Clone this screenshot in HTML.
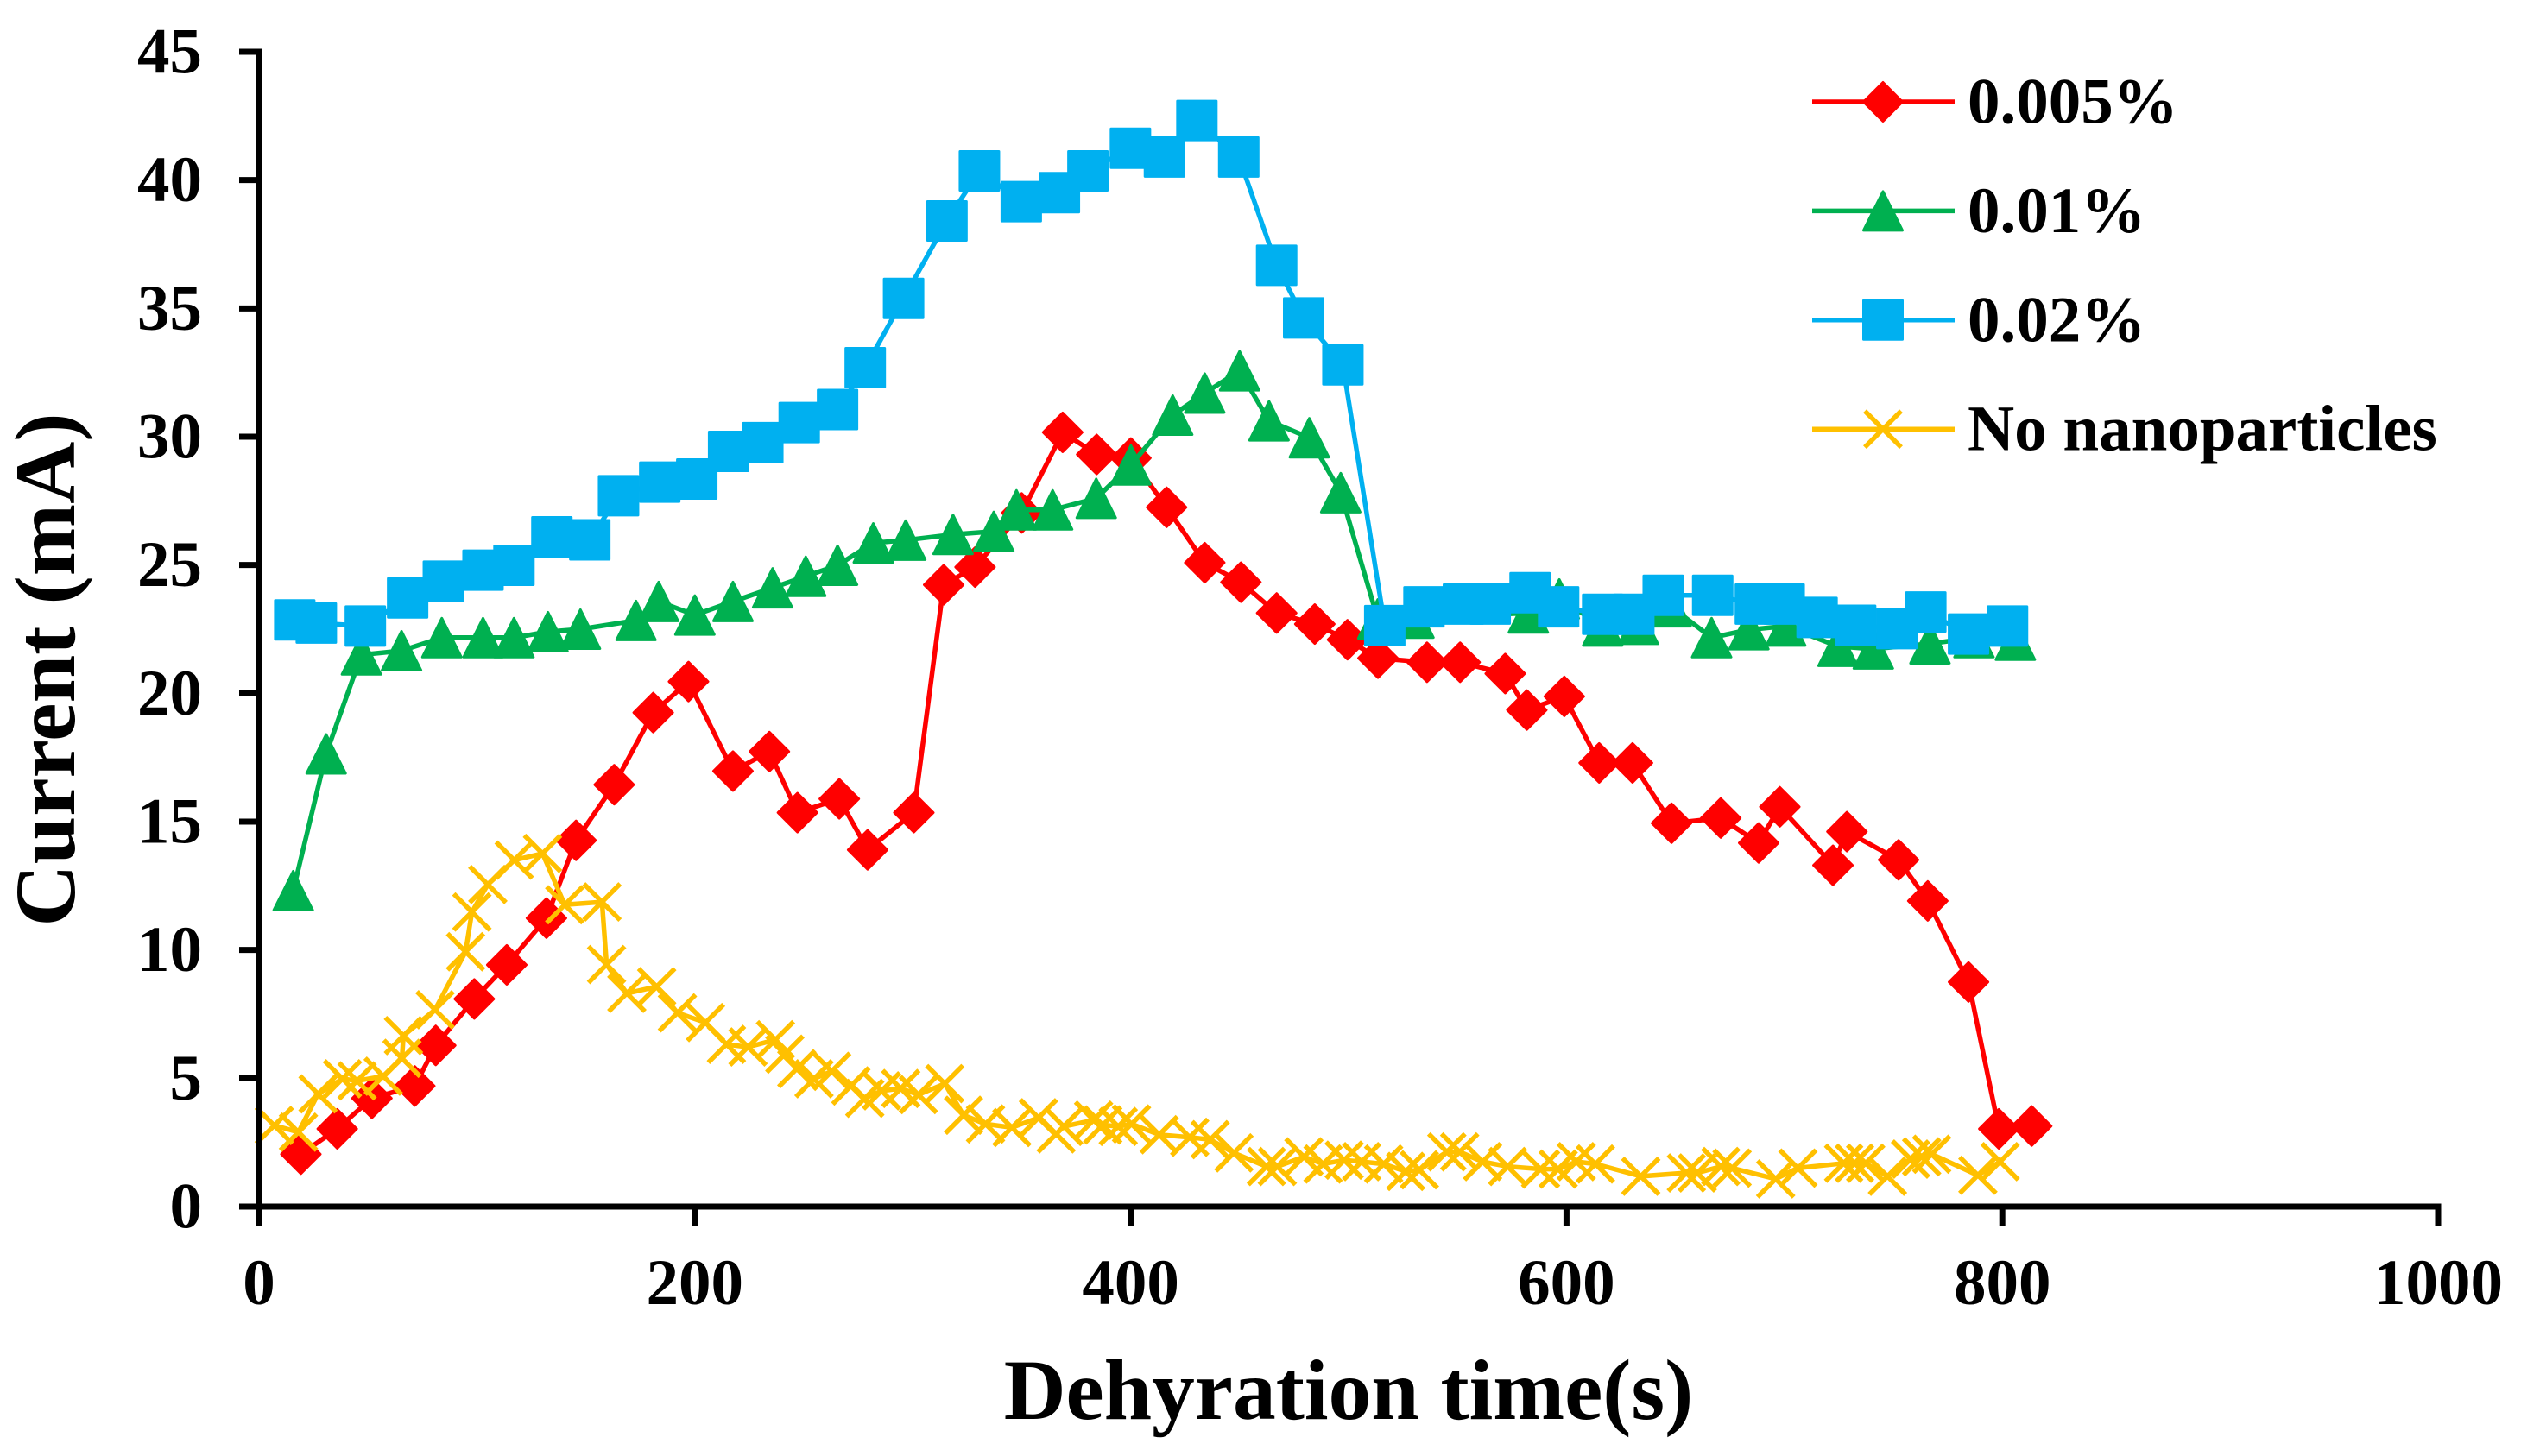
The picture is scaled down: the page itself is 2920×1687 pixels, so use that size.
<!DOCTYPE html>
<html lang="en">
<head>
<meta charset="utf-8">
<title>Current vs dehydration time</title>
<style>
html,body{margin:0;padding:0;background:#fff;}
svg{display:block;}
text{font-family:"Liberation Serif",serif;font-weight:bold;fill:#000;}
</style>
</head>
<body>
<svg id="chart" xmlns="http://www.w3.org/2000/svg" width="2920" height="1687" viewBox="0 0 2920 1687">
  <rect x="0" y="0" width="2920" height="1687" fill="#ffffff"/>
  <g id="series-layer"></g>
  <g id="axis-layer"></g>
  <text x="1562" y="1644" font-size="99.5" text-anchor="middle">Dehyration time(s)</text>
  <text transform="translate(86 776) rotate(-90)" font-size="100" text-anchor="middle">Current (mA)</text>
  <g id="legend-layer"></g>
</svg>
<script>
const xTicks = [0, 200, 400, 600, 800, 1000];
const yTicks = [0, 5, 10, 15, 20, 25, 30, 35, 40, 45];

const redTimes = [19.2,35.9,51.8,71.5,81.1,98.8,113.7,131.9,145.5,163,180.9,197.1,217.5,234.2,247.1,266.3,279.3,300.5,314.2,328.6,350,368.8,384.4,400.1,416.5,434,450.6,467,484.5,499.5,513.5,536,551.2,571.9,581.8,599,615,630.3,648.2,670.8,688.2,697.9,722.3,728.7,752.4,765.8,784.5,798.4,813.5];
const redCurrents = [2.04,3.03,4.22,4.7,6.28,8.09,9.42,11.24,14.27,16.44,19.25,20.46,16.97,17.73,15.35,15.89,13.9,15.35,24.23,24.92,27.03,30.17,29.31,29.17,27.25,25.09,24.33,23.13,22.7,22.09,21.37,21.21,21.21,20.77,19.35,19.88,17.29,17.29,14.94,15.14,14.17,15.58,13.3,14.61,13.51,11.91,8.75,3.03,3.14];

const greenTimes = [15.7,30.8,47,65.4,83.9,102.8,117,132.6,147.5,173,183.4,200,217.5,235.7,250.9,265.5,281.9,296.8,318.5,337.2,347.6,364.2,384.2,400.1,419.3,434,450,463.5,482,496.4,513.4,530,582.5,596.7,616.6,633,648,666.6,683.7,700.6,724.6,740.8,766.8,787,806];
const greenCurrents = [12.31,17.64,21.5,21.66,22.17,22.17,22.17,22.4,22.5,22.84,23.58,23.05,23.58,24.11,24.56,24.99,25.86,25.97,26.19,26.31,27.15,27.15,27.6,28.9,30.84,31.7,32.57,30.62,29.96,27.82,22.9,22.93,23.13,23.68,22.62,22.69,23.37,22.17,22.48,22.62,21.83,21.73,21.93,22.17,22.07];

const blueTimes = [16.4,26.3,48.8,68.2,84.6,102.8,117,134.4,151.8,165,183.9,200.9,215.5,231.2,247.9,265.5,278.2,295.8,315.7,330.6,349.8,367.3,380.4,399.9,415.5,430.4,449.6,467,479.4,497.4,516.6,534.6,552.7,565,583.3,596.4,616.6,630.9,644.4,667.1,686.7,699.9,715,732.7,751.6,764.9,784.5,802.4];
const blueCurrents = [22.86,22.74,22.62,23.72,24.37,24.8,24.99,26.1,25.98,27.7,28.23,28.35,29.43,29.77,30.55,31.06,32.69,35.39,38.41,40.36,39.16,39.51,40.36,41.24,40.9,42.32,40.9,36.68,34.63,32.8,22.64,23.37,23.48,23.48,23.92,23.37,23.08,23.08,23.82,23.82,23.48,23.48,22.96,22.65,22.52,23.17,22.31,22.62];

const yellowTimes = [7,18.1,27.1,38.3,45,57,65.6,66.3,80.8,94.8,97.7,105,117.1,130.1,140.3,157.4,159.5,168.8,182.5,192,204.9,214.5,224.4,237,241.3,246.8,254.7,262.8,271.6,278,285.7,294.5,302.6,314.7,323.3,333.4,345.5,357.7,365.8,369.3,383,387.2,394.3,400.4,413.1,427.1,436.5,447.4,462.3,467.3,479.5,488.3,498,506,516.1,526.2,532.5,545.1,551,561.5,573,588.1,596.2,604.5,613.3,634.1,655,660,670.8,676,696,706.2,727.2,732.2,737.3,747.3,757.9,763,767.6,788.8,799];
const yellowCurrents = [3.16,2.9,4.39,4.98,4.9,5.08,5.78,6.66,7.67,9.93,11.48,12.55,13.5,13.76,11.76,11.87,9.43,8.31,8.57,7.55,7.17,6.32,6.22,6.5,5.94,5.37,4.98,5.27,4.7,4.22,4.51,4.6,4.36,4.79,3.56,3.22,3.08,3.46,2.83,3.12,3.37,3.18,3.12,3.22,2.8,2.7,2.61,2.09,1.56,1.56,1.94,1.66,1.81,1.75,1.66,1.37,1.43,2.13,2.13,1.75,1.56,1.46,1.46,1.75,1.66,1.18,1.31,1.31,1.56,1.5,1.08,1.5,1.69,1.69,1.69,1.18,1.85,1.94,2.04,1.22,1.75];

const legendLabels = ['0.005%', '0.01%', '0.02%', 'No nanoparticles'];

const NS = 'http://www.w3.org/2000/svg';
const plot = { left: 300, right: 2824, top: 60, bottom: 1398, xMax: 1000, yMax: 45 };
function xScale(v) { return plot.left + (v / plot.xMax) * (plot.right - plot.left); }
function yScale(v) { return plot.bottom - (v / plot.yMax) * (plot.bottom - plot.top); }

function svgEl(tag, attrs) {
  const el = document.createElementNS(NS, tag);
  for (const k in attrs) el.setAttribute(k, attrs[k]);
  return el;
}

function markerPath(kind, cx, cy) {
  if (kind === 'diamond') {
    return 'M' + cx + ' ' + (cy - 22.5) + 'L' + (cx + 22.5) + ' ' + cy + 'L' + cx + ' ' + (cy + 22.5) + 'L' + (cx - 22.5) + ' ' + cy + 'Z';
  }
  if (kind === 'triangle') {
    return 'M' + cx + ' ' + (cy - 22.5) + 'L' + (cx + 22.5) + ' ' + (cy + 22.5) + 'L' + (cx - 22.5) + ' ' + (cy + 22.5) + 'Z';
  }
  if (kind === 'square') {
    return 'M' + (cx - 22.5) + ' ' + (cy - 22.5) + 'H' + (cx + 22.5) + 'V' + (cy + 22.5) + 'H' + (cx - 22.5) + 'Z';
  }
  return 'M' + (cx - 21) + ' ' + (cy - 21) + 'L' + (cx + 21) + ' ' + (cy + 21) + 'M' + (cx + 21) + ' ' + (cy - 21) + 'L' + (cx - 21) + ' ' + (cy + 21);
}

function drawMarker(parent, kind, color, cx, cy) {
  const m = svgEl('path', { d: markerPath(kind, cx, cy) });
  if (kind === 'cross') {
    m.setAttribute('fill', 'none');
    m.setAttribute('stroke', color);
    m.setAttribute('stroke-width', '5.5');
  } else {
    m.setAttribute('fill', color);
    m.setAttribute('stroke', color);
    m.setAttribute('stroke-width', '3');
    m.setAttribute('stroke-linejoin', 'round');
  }
  
  
  parent.appendChild(m);
}

function drawSeries(name, times, currents, color, kind) {
  const group = svgEl('g', {});
  
  
  const pts = times.map(function (t, i) { return xScale(t).toFixed(1) + ',' + yScale(currents[i]).toFixed(1); }).join(' ');
  const line = svgEl('polyline', { points: pts, fill: 'none', stroke: color, 'stroke-width': '5.5', 'stroke-linejoin': 'round' });
  
  
  group.appendChild(line);
  times.forEach(function (t, i) { drawMarker(group, kind, color, xScale(t), yScale(currents[i])); });
  document.getElementById('series-layer').appendChild(group);
}

function drawAxes() {
  const layer = document.getElementById('axis-layer');
  const yAxis = svgEl('line', { x1: plot.left, x2: plot.left, y1: plot.top - 3.5, y2: plot.bottom + 3.5, stroke: '#000', 'stroke-width': '7' });
  
  
  layer.appendChild(yAxis);
  const xAxis = svgEl('line', { x1: plot.left - 3.5, x2: plot.right + 3.5, y1: plot.bottom, y2: plot.bottom, stroke: '#000', 'stroke-width': '7' });
  
  
  layer.appendChild(xAxis);
  yTicks.forEach(function (v) {
    const y = yScale(v);
    const t = svgEl('line', { x1: 277, x2: plot.left, y1: y, y2: y, stroke: '#000', 'stroke-width': '7' });
    
    
    layer.appendChild(t);
    const l = svgEl('text', { x: 234, y: y + 24.5, 'font-size': '75', 'text-anchor': 'end' });
    
    
    l.textContent = v;
    layer.appendChild(l);
  });
  xTicks.forEach(function (v) {
    const x = xScale(v);
    const t = svgEl('line', { x1: x, x2: x, y1: plot.bottom, y2: 1420, stroke: '#000', 'stroke-width': '7' });
    
    
    layer.appendChild(t);
    const l = svgEl('text', { x: x, y: 1511, 'font-size': '75', 'text-anchor': 'middle' });
    
    
    l.textContent = v;
    layer.appendChild(l);
  });
}

function drawLegendEntry(label, index, color, kind) {
  const layer = document.getElementById('legend-layer');
  const y = 118 + index * 126.4;
  const g = svgEl('g', {});
  
  
  const sw = svgEl('line', { x1: 2099, x2: 2264, y1: y, y2: y, stroke: color, 'stroke-width': '5.5' });
  
  
  g.appendChild(sw);
  drawMarker(g, kind, color, 2181, y);
  const t = svgEl('text', { x: 2279, y: y + 24.5, 'font-size': '75' });
  
  
  t.textContent = label;
  g.appendChild(t);
  layer.appendChild(g);
}

drawSeries('0-005-percent', redTimes, redCurrents, '#FF0000', 'diamond');
drawSeries('0-01-percent', greenTimes, greenCurrents, '#00B050', 'triangle');
drawSeries('0-02-percent', blueTimes, blueCurrents, '#00B0F0', 'square');
drawSeries('no-nanoparticles', yellowTimes, yellowCurrents, '#FFC000', 'cross');
drawAxes();
drawLegendEntry(legendLabels[0], 0, '#FF0000', 'diamond');
drawLegendEntry(legendLabels[1], 1, '#00B050', 'triangle');
drawLegendEntry(legendLabels[2], 2, '#00B0F0', 'square');
drawLegendEntry(legendLabels[3], 3, '#FFC000', 'cross');
</script>
</body>
</html>
